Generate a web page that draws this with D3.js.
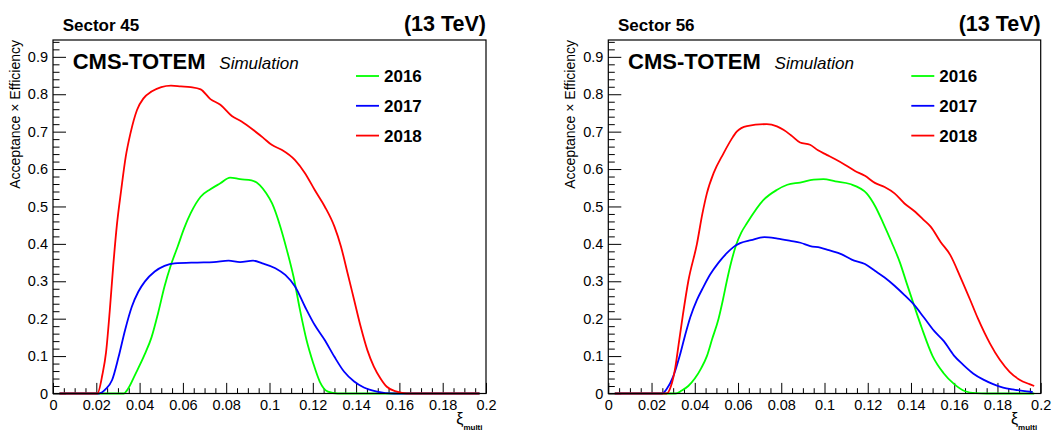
<!DOCTYPE html>
<html>
<head>
<meta charset="utf-8">
<script src="https://cdn.jsdelivr.net/npm/d3@7"></script>
<style>
  html, body { margin: 0; padding: 0; background: #fff; }
  svg { display: block; }
  text { font-family: "Liberation Sans", Arial, Helvetica, sans-serif; fill: #000; }
</style>
</head>
<body>
<script>
// ---------------- DATA ----------------
const seriesNames = ["2016", "2017", "2018"];
const seriesColors = ["#00ff00", "#0000ff", "#ff0000"];
const panelTitles = ["Sector 45", "Sector 56"];
const energyLabel = "(13 TeV)";
const xMajorTicks = [0, 0.02, 0.04, 0.06, 0.08, 0.1, 0.12, 0.14, 0.16, 0.18, 0.2];
const xTickLabels = ["0", "0.02", "0.04", "0.06", "0.08", "0.1", "0.12", "0.14", "0.16", "0.18", "0.2"];
const yMajorTicks = [0, 0.1, 0.2, 0.3, 0.4, 0.5, 0.6, 0.7, 0.8, 0.9];
const yTickLabels = ["0", "0.1", "0.2", "0.3", "0.4", "0.5", "0.6", "0.7", "0.8", "0.9"];
const xDomain = [0, 0.2];
const yDomain = [0, 0.945];

// Sector 45: [xi, acceptance x efficiency]
const s45_2016 = [[0.003,0],[0.0326,0],[0.0348,0.014],[0.0379,0.05],[0.0424,0.105],[0.0455,0.15],[0.0485,0.214],[0.0515,0.286],[0.0545,0.344],[0.0576,0.393],[0.0606,0.442],[0.0636,0.482],[0.0682,0.526],[0.0727,0.546],[0.0773,0.562],[0.0818,0.577],[0.0864,0.573],[0.0917,0.57],[0.0955,0.557],[0.0985,0.535],[0.1012,0.508],[0.105,0.446],[0.108,0.384],[0.1111,0.312],[0.1141,0.223],[0.1171,0.143],[0.1202,0.081],[0.1232,0.032],[0.127,0.005],[0.1315,0],[0.197,0]];
const s45_2017 = [[0.003,0],[0.0212,0],[0.0242,0.011],[0.0273,0.036],[0.0303,0.098],[0.0333,0.17],[0.0364,0.232],[0.0394,0.272],[0.0424,0.299],[0.047,0.326],[0.0515,0.341],[0.0561,0.348],[0.0667,0.35],[0.0742,0.351],[0.0811,0.355],[0.0864,0.351],[0.0924,0.355],[0.0967,0.348],[0.1027,0.335],[0.1073,0.317],[0.1118,0.286],[0.1164,0.232],[0.1209,0.183],[0.1255,0.143],[0.13,0.098],[0.1345,0.058],[0.1391,0.032],[0.1436,0.016],[0.1497,0.005],[0.1573,0],[0.197,0]];
const s45_2018 = [[0.003,0],[0.0205,0],[0.0228,0.05],[0.0245,0.11],[0.0262,0.22],[0.0278,0.34],[0.0295,0.45],[0.0315,0.544],[0.0336,0.633],[0.0358,0.696],[0.0388,0.758],[0.0418,0.789],[0.0455,0.807],[0.05,0.819],[0.0545,0.823],[0.0591,0.821],[0.0636,0.819],[0.0682,0.813],[0.0727,0.787],[0.0773,0.772],[0.0826,0.742],[0.0871,0.727],[0.0924,0.705],[0.097,0.684],[0.1012,0.664],[0.1058,0.651],[0.1118,0.624],[0.1164,0.589],[0.1209,0.544],[0.1255,0.5],[0.13,0.446],[0.133,0.393],[0.1361,0.321],[0.1391,0.25],[0.1421,0.179],[0.1452,0.116],[0.1482,0.072],[0.1512,0.041],[0.1542,0.018],[0.1588,0.005],[0.1633,0],[0.197,0]];

// Sector 56
const s56_2016 = [[0.003,0],[0.031,0],[0.034,0.008],[0.037,0.02],[0.04,0.04],[0.043,0.068],[0.0456,0.1],[0.048,0.145],[0.051,0.2],[0.053,0.25],[0.0548,0.3],[0.0568,0.35],[0.059,0.395],[0.0615,0.43],[0.0641,0.455],[0.0717,0.517],[0.0779,0.544],[0.0828,0.558],[0.0887,0.564],[0.095,0.572],[0.0995,0.573],[0.105,0.567],[0.1118,0.56],[0.1195,0.535],[0.1235,0.5],[0.1272,0.455],[0.131,0.405],[0.1349,0.35],[0.138,0.295],[0.141,0.243],[0.145,0.175],[0.15,0.1],[0.155,0.055],[0.16,0.025],[0.165,0.006],[0.17,0.001],[0.175,0],[0.197,0]];
const s56_2017 = [[0.003,0],[0.025,0],[0.027,0.012],[0.03,0.045],[0.033,0.1],[0.0355,0.155],[0.038,0.205],[0.041,0.25],[0.044,0.285],[0.0471,0.318],[0.051,0.35],[0.0548,0.375],[0.058,0.392],[0.061,0.402],[0.066,0.41],[0.0722,0.418],[0.0783,0.414],[0.0843,0.408],[0.0889,0.403],[0.0934,0.394],[0.098,0.39],[0.102,0.383],[0.108,0.372],[0.1126,0.358],[0.1187,0.346],[0.1233,0.328],[0.1278,0.31],[0.1324,0.288],[0.137,0.263],[0.141,0.24],[0.146,0.203],[0.1506,0.168],[0.1552,0.14],[0.1598,0.102],[0.1643,0.076],[0.1689,0.053],[0.1735,0.037],[0.178,0.025],[0.1826,0.016],[0.1871,0.011],[0.1917,0.007],[0.1963,0.004]];
const s56_2018 = [[0.003,0],[0.027,0],[0.029,0.02],[0.031,0.07],[0.0325,0.13],[0.0345,0.21],[0.037,0.3],[0.041,0.4],[0.0435,0.48],[0.0456,0.535],[0.0487,0.589],[0.0533,0.642],[0.057,0.68],[0.0594,0.7],[0.0641,0.715],[0.0733,0.72],[0.078,0.714],[0.081,0.705],[0.085,0.688],[0.0887,0.671],[0.0933,0.665],[0.097,0.65],[0.101,0.638],[0.105,0.626],[0.1096,0.611],[0.1141,0.595],[0.1187,0.582],[0.1233,0.563],[0.1278,0.552],[0.1324,0.535],[0.137,0.508],[0.1415,0.488],[0.1461,0.463],[0.1491,0.446],[0.1537,0.405],[0.1582,0.37],[0.1628,0.312],[0.1674,0.25],[0.171,0.2],[0.1765,0.134],[0.1811,0.09],[0.1856,0.058],[0.1902,0.037],[0.1948,0.025],[0.197,0.02]];

// ---------------- LAYOUT ----------------
const W = 1061, H = 432;
const frameTop = 40, frameBottom = 393.5;
const panels = [
  { left: 53, right: 486, title: panelTitles[0], series: [s45_2016, s45_2017, s45_2018] },
  { left: 608.3, right: 1040.7, title: panelTitles[1], series: [s56_2016, s56_2017, s56_2018] }
];

const xMinorTicks = d3.range(0, 41).map(i => +(i * 0.005).toFixed(4)).filter(v => !xMajorTicks.some(m => Math.abs(m - v) < 1e-9));
const yMinorTicks = d3.range(0, 48).map(i => +(i * 0.02).toFixed(4)).filter(v => v <= yDomain[1] && !yMajorTicks.some(m => Math.abs(m - v) < 1e-9));

const svg = d3.select("body").append("svg").attr("width", W).attr("height", H);
svg.append("rect").attr("width", W).attr("height", H).attr("fill", "#fff");

panels.forEach(p => {
  const g = svg.append("g");
  const x = d3.scaleLinear().domain(xDomain).range([p.left, p.right]);
  const y = d3.scaleLinear().domain(yDomain).range([frameBottom, frameTop]);
  const off = p.left - 53;

  // X axis minor
  g.append("g").attr("transform", `translate(0,${frameBottom})`)
    .call(d3.axisBottom(x).tickValues(xMinorTicks).tickSizeInner(-5.3).tickSizeOuter(0).tickFormat(() => ""))
    .call(s => { s.select(".domain").remove(); s.selectAll("text").remove(); });
  // X axis major
  g.append("g").attr("transform", `translate(0,${frameBottom})`)
    .call(d3.axisBottom(x).tickValues(xMajorTicks).tickSizeInner(-10.6).tickSizeOuter(0).tickPadding(6.5)
      .tickFormat((d, i) => xTickLabels[i]))
    .call(s => {
      s.select(".domain").remove();
      s.selectAll("text").attr("font-size", 14.5).attr("font-family", "Liberation Sans, Arial, sans-serif").attr("fill", "#000");
    });
  // Y axis minor
  g.append("g").attr("transform", `translate(${p.left},0)`)
    .call(d3.axisLeft(y).tickValues(yMinorTicks).tickSizeInner(-6.5).tickSizeOuter(0).tickFormat(() => ""))
    .call(s => { s.select(".domain").remove(); s.selectAll("text").remove(); });
  // Y axis major
  g.append("g").attr("transform", `translate(${p.left},0)`)
    .call(d3.axisLeft(y).tickValues(yMajorTicks).tickSizeInner(-13).tickSizeOuter(0).tickPadding(5)
      .tickFormat((d, i) => yTickLabels[i]))
    .call(s => {
      s.select(".domain").remove();
      s.selectAll("text").attr("font-size", 14.5).attr("font-family", "Liberation Sans, Arial, sans-serif").attr("fill", "#000");
    });
  g.selectAll(".tick line").attr("stroke", "#000").attr("stroke-width", 1);

  // Curves
  const line = d3.line().x(d => x(d[0])).y(d => y(d[1])).curve(d3.curveMonotoneX);
  p.series.forEach((s, i) => {
    g.append("path").datum(s).attr("d", line)
      .attr("fill", "none").attr("stroke", seriesColors[i]).attr("stroke-width", 1.8)
      .attr("stroke-linejoin", "round");
  });

  // Frame
  g.append("rect").attr("x", p.left).attr("y", frameTop)
    .attr("width", p.right - p.left).attr("height", frameBottom - frameTop)
    .attr("fill", "none").attr("stroke", "#000").attr("stroke-width", 1.2);

  // Titles
  g.append("text").attr("x", 62.7 + off).attr("y", 30.7).attr("font-size", 17).attr("font-weight", "bold").text(p.title);
  g.append("text").attr("x", p.right).attr("y", 31).attr("text-anchor", "end").attr("font-size", 21.5).attr("font-weight", "bold").text(energyLabel);
  g.append("text").attr("x", 72.7 + off).attr("y", 69).attr("font-size", 22).attr("font-weight", "bold").text("CMS-TOTEM");
  g.append("text").attr("x", 219.3 + off).attr("y", 69).attr("font-size", 17).attr("font-style", "italic").text("Simulation");

  // Legend
  seriesNames.forEach((n, i) => {
    const ly = 76 + i * 29.8;
    g.append("line").attr("x1", 356 + off).attr("x2", 379 + off).attr("y1", ly).attr("y2", ly)
      .attr("stroke", seriesColors[i]).attr("stroke-width", 1.8);
    g.append("text").attr("x", 384 + off).attr("y", ly + 6.3).attr("font-size", 17).attr("font-weight", "bold").text(n);
  });

  // Y title
  g.append("text").attr("transform", `translate(${19.8 + off},${frameTop}) rotate(-90)`)
    .attr("text-anchor", "end").attr("font-size", 14).text("Acceptance \u00d7 Efficiency");

  // X title
  const xt = g.append("text").attr("x", p.right - 3.5).attr("y", 424).attr("text-anchor", "end")
    .attr("font-family", "Liberation Serif, DejaVu Serif, serif");
  xt.append("tspan").attr("font-size", 16).text("\u03be");
  xt.append("tspan").attr("font-size", 8).attr("font-weight", "bold").attr("dy", 6).text("multi");
});
</script>
</body>
</html>
